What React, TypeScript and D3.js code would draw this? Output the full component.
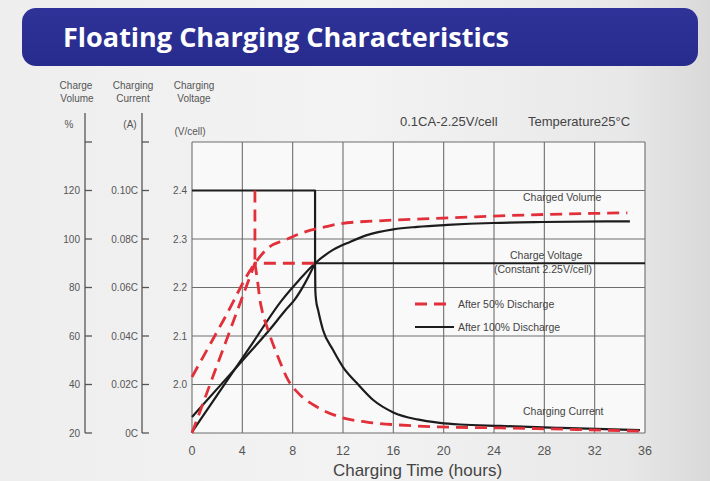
import React from 'react';
import * as d3 from 'd3';

const W = 710;
const H = 481;

// ---- axis ticks ----
const timeTicks = [0, 4, 8, 12, 16, 20, 24, 28, 32, 36];
const voltageTicks = [2.0, 2.1, 2.2, 2.3, 2.4];
const voltageLabels = ['2.0', '2.1', '2.2', '2.3', '2.4'];
const gridVoltages = [1.9, 2.0, 2.1, 2.2, 2.3, 2.4, 2.5];
const volumeTicks = [20, 40, 60, 80, 100, 120, 140];
const volumeLabels = ['20', '40', '60', '80', '100', '120', ''];
const currentTicks = [0, 0.02, 0.04, 0.06, 0.08, 0.1, 0.12];
const currentLabels = ['0C', '0.02C', '0.04C', '0.06C', '0.08C', '0.10C', ''];

// ---- After 100% discharge (black, solid) ----
const voltage100Rise: [number, number][] = [
  [0, 1.933], [2.62, 2.009], [4.61, 2.067], [6.2, 2.114], [7.39, 2.152],
  [8.19, 2.176], [8.98, 2.209], [9.78, 2.25],
];
const voltage100Hold: [number, number][] = [[9.78, 2.25], [36, 2.25]];
const volume100: [number, number][] = [
  [0, 20.4], [2.62, 40.4], [4.61, 55.5], [7.15, 74.8], [8.5, 83], [9.78, 90],
  [11.2, 95.5], [12.56, 98.8], [13.9, 101.6], [16.0, 104.0], [17.9, 105.0],
  [20.3, 105.8], [23.9, 106.6], [27.9, 107.0], [34.8, 107.3],
];
const current100Step: [number, number][] = [[0, 0.1], [9.78, 0.1], [9.78, 0.07]];
const current100Decay: [number, number][] = [
  [9.78, 0.07], [9.8, 0.059], [9.86, 0.0548], [10.02, 0.0507], [10.41, 0.0425],
  [11.21, 0.0342], [12.0, 0.0272], [13.1, 0.0206], [14.4, 0.0136], [16.0, 0.0085],
  [17.9, 0.0056], [19.7, 0.0042], [21.3, 0.0035], [24.5, 0.0029], [29.3, 0.0021],
  [35.6, 0.0012],
];

// ---- After 50% discharge (red, dashed) ----
const voltage50: [number, number][] = [[0, 1.9], [5.0, 2.25], [9.78, 2.25]];
const volume50: [number, number][] = [
  [0, 43.1], [2.5, 66.5], [5.0, 90], [6.04, 96.3], [7.39, 99.6], [8.74, 102.5],
  [10.57, 105.0], [11.76, 106.3], [15.18, 107.6], [20.5, 108.7], [26.6, 109.9],
  [34.6, 110.8],
];
const current50Step: [number, number][] = [[5.0, 0.1], [5.0, 0.07]];
const current50Decay: [number, number][] = [
  [5.0, 0.07], [5.25, 0.061], [5.4, 0.0548], [5.56, 0.0507], [6.04, 0.0425],
  [6.84, 0.0313], [7.63, 0.0219], [8.59, 0.0157], [9.94, 0.0107], [11.76, 0.0066],
  [13.9, 0.0045], [16.5, 0.0033], [19.7, 0.0025], [24.5, 0.0021], [35.6, 0.0008],
];

// ---- scales ----
const x = d3.scaleLinear().domain([0, 36]).range([192, 645]);
const yV = d3.scaleLinear().domain([1.9, 2.5]).range([433, 142]);
const yVol = d3.scaleLinear().domain([20, 140]).range([433, 142]);
const yCur = d3.scaleLinear().domain([0, 0.12]).range([433, 142]);

const RED = '#e2303a';
const BLACK = '#1c1c1c';
const GRID = '#6e6e6e';
const TXT = '#555';
const FONT = '"Liberation Sans", Arial, sans-serif';

function path(data: [number, number][], ys: d3.ScaleLinear<number, number>, curve: d3.CurveFactory) {
  return d3.line<[number, number]>().x((d) => x(d[0])).y((d) => ys(d[1])).curve(curve)(data) || '';
}

export default function App() {
  const lin = d3.curveLinear;
  const mono = d3.curveMonotoneX;
  const axisTop = 113;
  const volAxisX = 85;
  const curAxisX = 142;

  const blackPaths = [
    path(voltage100Rise, yV, mono),
    path(voltage100Hold, yV, lin),
    path(volume100, yVol, mono),
    path(current100Step, yCur, lin),
    path(current100Decay, yCur, mono),
  ];
  const redPaths = [
    path(voltage50, yV, lin),
    path(volume50, yVol, mono),
    path(current50Step, yCur, lin),
    path(current50Decay, yCur, mono),
  ];

  return (
    <svg width={W} height={H} style={{ position: 'fixed', left: 0, top: 0, display: 'block' }}>
      <defs>
        <linearGradient id="bg" x1="0" x2="1" y1="0" y2="0">
          <stop offset="0" stopColor="#eeeeee" />
          <stop offset="0.5" stopColor="#f3f3f3" />
          <stop offset="0.88" stopColor="#e8e8e8" />
          <stop offset="1" stopColor="#d9d9d9" />
        </linearGradient>
        <linearGradient id="banner" x1="0" x2="0" y1="0" y2="1">
          <stop offset="0" stopColor="#2f3399" />
          <stop offset="1" stopColor="#272b8c" />
        </linearGradient>
      </defs>
      <rect x={0} y={0} width={W} height={H} fill="url(#bg)" />

      {/* title banner */}
      <rect x={22} y={8} width={676} height={58} rx={14} fill="url(#banner)" />
      <text x={63} y={47} fill="#ffffff" fontFamily='"Open Sans", "Noto Sans", sans-serif' fontWeight={700}
        fontSize={27} textLength={446} lengthAdjust="spacingAndGlyphs">Floating Charging Characteristics</text>

      {/* axis headers */}
      <g fontFamily={FONT} fontSize={10} fill={TXT} textAnchor="middle">
        <text x={76} y={89}>Charge</text>
        <text x={77} y={102}>Volume</text>
        <text x={69} y={128}>%</text>
        <text x={133} y={89}>Charging</text>
        <text x={133} y={102}>Current</text>
        <text x={130} y={128}>(A)</text>
        <text x={194} y={89}>Charging</text>
        <text x={194} y={102}>Voltage</text>
        <text x={190} y={135}>(V/cell)</text>
      </g>

      {/* plot background */}
      <rect x={x(0)} y={yV(2.5)} width={x(36) - x(0)} height={yV(1.9) - yV(2.5)} fill="#f9f9f9" />

      {/* grid */}
      <g stroke={GRID} strokeWidth={1.1}>
        {timeTicks.map((t) => (
          <line key={'gx' + t} x1={x(t)} x2={x(t)} y1={yV(2.5)} y2={yV(1.9)} />
        ))}
        {gridVoltages.map((v) => (
          <line key={'gy' + v} x1={x(0)} x2={x(36)} y1={yV(v)} y2={yV(v)} />
        ))}
      </g>

      {/* left axes */}
      <g stroke="#555" strokeWidth={1.3} fill="none">
        <line x1={volAxisX} x2={volAxisX} y1={axisTop} y2={yVol(20)} />
        {volumeTicks.map((v) => (
          <line key={'vt' + v} x1={volAxisX} x2={volAxisX + 7} y1={yVol(v)} y2={yVol(v)} />
        ))}
        <line x1={curAxisX} x2={curAxisX} y1={axisTop} y2={yCur(0)} />
        {currentTicks.map((c) => (
          <line key={'ct' + c} x1={curAxisX} x2={curAxisX + 7} y1={yCur(c)} y2={yCur(c)} />
        ))}
      </g>
      <g fontFamily={FONT} fontSize={10} fill={TXT} textAnchor="end">
        {volumeTicks.map((v, i) => (
          <text key={'vl' + v} x={volAxisX - 5} y={yVol(v) + 3.5}>{volumeLabels[i]}</text>
        ))}
        {currentTicks.map((c, i) => (
          <text key={'cl' + c} x={curAxisX - 4} y={yCur(c) + 3.5}>{currentLabels[i]}</text>
        ))}
        {voltageTicks.map((v, i) => (
          <text key={'vv' + v} x={187} y={yV(v) + 3.5}>{voltageLabels[i]}</text>
        ))}
      </g>

      {/* x tick labels */}
      <g fontFamily={FONT} fontSize={12.5} fill={TXT} textAnchor="middle">
        {timeTicks.map((t) => (
          <text key={'xl' + t} x={x(t)} y={455}>{t}</text>
        ))}
      </g>
      <text x={(x(0) + x(36)) / 2 - 1} y={476} fontFamily={FONT} fontSize={17} fill="#444" textAnchor="middle">
        Charging Time (hours)
      </text>

      {/* curves */}
      <g fill="none" stroke={BLACK} strokeWidth={2.2} strokeLinejoin="round">
        {blackPaths.map((d, i) => <path key={'b' + i} d={d} />)}
      </g>
      <g fill="none" stroke={RED} strokeWidth={2.8} strokeDasharray="12,7">
        {redPaths.map((d, i) => <path key={'r' + i} d={d} />)}
      </g>

      {/* annotations */}
      <g fontFamily={FONT} fill="#444">
        <text x={400} y={126} fontSize={13}>0.1CA-2.25V/cell</text>
        <text x={528} y={126} fontSize={13}>Temperature25°C</text>
        <text x={523} y={201} fontSize={10.5}>Charged Volume</text>
        <text x={510} y={259} fontSize={10.5}>Charge Voltage</text>
        <text x={494} y={273} fontSize={10.5}>(Constant 2.25V/cell)</text>
        <text x={523} y={415} fontSize={10.5}>Charging Current</text>
        <text x={458} y={308} fontSize={10.5}>After 50% Discharge</text>
        <text x={458} y={331} fontSize={10.5}>After 100% Discharge</text>
      </g>
      <line x1={415} x2={452} y1={304} y2={304} stroke={RED} strokeWidth={2.8} strokeDasharray="12,7" />
      <line x1={415} x2={454} y1={327} y2={327} stroke={BLACK} strokeWidth={2.2} />
    </svg>
  );
}
